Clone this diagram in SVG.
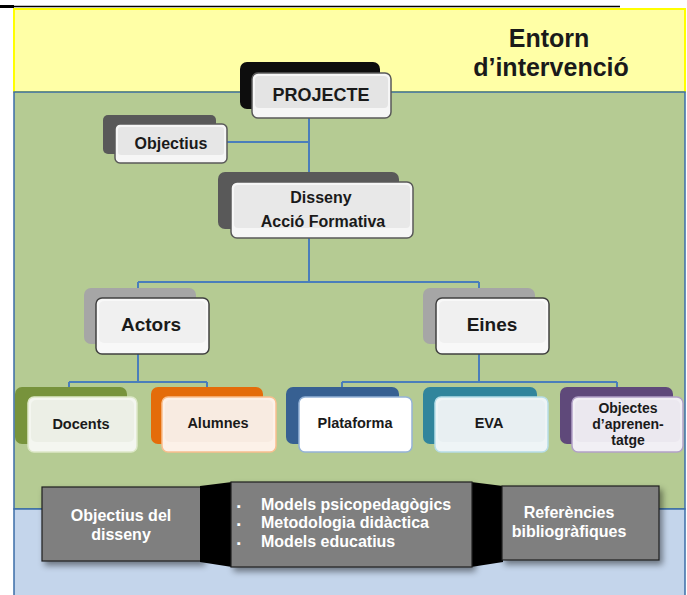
<svg xmlns="http://www.w3.org/2000/svg" width="687" height="595" viewBox="0 0 687 595">
<style>
.t{font-family:"Liberation Sans",Arial,sans-serif;font-weight:bold;text-anchor:middle;fill:#1a1a1a}
.s{text-anchor:start}
.w{fill:#ffffff}
.conn{stroke:#4a7ebb;stroke-width:2;fill:none}
.fr{stroke-width:1.5}
.gb{fill:#7f7f7f;stroke:#1f1f1f;stroke-width:1.2}
</style>
<defs>
<filter id="sh" x="-20%" y="-20%" width="140%" height="150%">
<feDropShadow dx="3" dy="4" stdDeviation="3" flood-color="#000" flood-opacity="0.45"/>
</filter>
</defs>
<rect width="687" height="595" fill="#ffffff"/>
<g id="frame">
<rect x="0" y="5" width="14" height="3" fill="#000"/>
<line x1="13" y1="6.5" x2="620" y2="6.5" stroke="#000" stroke-width="1.5"/>
<rect x="14" y="9" width="671" height="83" fill="#ffffa6" stroke="#ffff00" stroke-width="2"/>
<rect x="14" y="92" width="671" height="417" fill="#b5cb93" stroke="#3b6ea8" stroke-width="1.5"/>
<rect x="14" y="509" width="671" height="90" fill="#c4d5eb" stroke="#3b6ea8" stroke-width="1.5"/>
<text class="t" x="549" y="47" font-size="25">Entorn</text>
<text class="t" x="551" y="76" font-size="25">d’intervenció</text>
</g>
<g id="connectors">
<path class="conn" d="M309,118 V182 M227,142 H309 M309,238 V282 M138,282 H479 M138,282 V290 M479,282 V290"/>
<path class="conn" d="M138,354 V382 M69,382 H207 M69,382 V389 M207,382 V389"/>
<path class="conn" d="M479,354 V382 M342,382 H617 M342,382 V389 M617,382 V389"/>
</g>
<g id="projecte">
<rect x="240" y="62" width="140" height="47" rx="7" fill="#0d0d0d"/>
<rect class="fr" x="252" y="73" width="139" height="45" rx="6" fill="#f6f6f6" stroke="#595959"/>
<rect x="255" y="76" width="133" height="32" rx="4" fill="#e4e4e4"/>
<text class="t" x="321" y="101" font-size="18">PROJECTE</text>
</g>
<g id="objectius">
<rect x="103" y="115" width="113" height="39" rx="5" fill="#595959"/>
<rect class="fr" x="115" y="124" width="112" height="39" rx="5" fill="#f6f6f6" stroke="#595959"/>
<rect x="118" y="127" width="106" height="28" rx="3" fill="#e6e6e6"/>
<text class="t" x="171" y="149" font-size="16">Objectius</text>
</g>
<g id="disseny">
<rect x="218" y="172" width="181" height="57" rx="7" fill="#595959"/>
<rect class="fr" x="231" y="182" width="182" height="56" rx="6" fill="#f6f6f6" stroke="#595959"/>
<rect x="234" y="185" width="176" height="43" rx="4" fill="#e8e8e8"/>
<text class="t" x="321" y="203" font-size="16">Disseny</text>
<text class="t" x="323" y="227" font-size="16">Acció Formativa</text>
</g>
<g id="actors">
<rect x="84" y="288" width="112" height="56" rx="7" fill="#a6a6a6"/>
<rect class="fr" x="96" y="298" width="113" height="56" rx="6" fill="#f8f8f8" stroke="#404040"/>
<rect x="99" y="301" width="107" height="42" rx="5" fill="#f0f0f0"/>
<text class="t" x="151" y="331" font-size="19">Actors</text>
</g>
<g id="eines">
<rect x="423" y="288" width="112" height="56" rx="7" fill="#a6a6a6"/>
<rect class="fr" x="436" y="298" width="113" height="56" rx="6" fill="#f8f8f8" stroke="#404040"/>
<rect x="439" y="301" width="107" height="42" rx="5" fill="#f0f0f0"/>
<text class="t" x="492" y="331" font-size="19">Eines</text>
</g>
<g id="docents">
<rect x="15" y="387" width="112" height="57" rx="7" fill="#77933c"/>
<rect class="fr" x="28" y="397" width="109" height="55" rx="6" fill="#f4f6f0" stroke="#dde8c8"/>
<rect x="31" y="400" width="103" height="42" rx="5" fill="#ecefe6"/>
<text class="t" x="81" y="429" font-size="14.5">Docents</text>
</g>
<g id="alumnes">
<rect x="151" y="387" width="112" height="57" rx="7" fill="#e46c0a"/>
<rect class="fr" x="162" y="397" width="114" height="55" rx="6" fill="#fcf1e8" stroke="#f9bf8f"/>
<rect x="165" y="400" width="108" height="42" rx="5" fill="#f8ebe1"/>
<text class="t" x="218" y="428" font-size="14.5">Alumnes</text>
</g>
<g id="plataforma">
<rect x="286" y="387" width="113" height="57" rx="7" fill="#376092"/>
<rect class="fr" x="299" y="397" width="113" height="55" rx="6" fill="#ffffff" stroke="#95b3d7"/>
<text class="t" x="355" y="428" font-size="14.5">Plataforma</text>
</g>
<g id="eva">
<rect x="423" y="387" width="114" height="57" rx="7" fill="#31859c"/>
<rect class="fr" x="435" y="397" width="113" height="55" rx="6" fill="#eef4f6" stroke="#b7dde8"/>
<rect x="438" y="400" width="107" height="42" rx="5" fill="#e8eff2"/>
<text class="t" x="489" y="428" font-size="14.5">EVA</text>
</g>
<g id="objectes">
<rect x="560" y="387" width="113" height="57" rx="7" fill="#5f497a"/>
<rect class="fr" x="572" y="397" width="111" height="55" rx="6" fill="#f1eff4" stroke="#b2a1c7"/>
<rect x="575" y="400" width="105" height="42" rx="5" fill="#ebe8ef"/>
<text class="t" x="628" y="413" font-size="14">Objectes</text>
<text class="t" x="628" y="429" font-size="14">d’aprenen-</text>
<text class="t" x="628" y="445" font-size="14">tatge</text>
</g>
<g id="objectius-disseny">
<rect class="gb" x="42" y="487" width="160" height="74" filter="url(#sh)"/>
<text class="t w" x="121" y="521" font-size="16">Objectius del</text>
<text class="t w" x="121" y="540" font-size="16">disseny</text>
</g>
<g id="models">
<polygon points="200,486 232,482 232,567 200,562" fill="#000"/>
<polygon points="471,482 503,486 503,562 471,567" fill="#000"/>
<rect class="gb" x="231" y="482" width="241" height="85" filter="url(#sh)"/>
<text class="w" x="237" y="510" font-family="Liberation Sans, Arial, sans-serif" font-size="11">▪</text>
<text class="w" x="237" y="528" font-family="Liberation Sans, Arial, sans-serif" font-size="11">▪</text>
<text class="w" x="237" y="547" font-family="Liberation Sans, Arial, sans-serif" font-size="11">▪</text>
<text class="t w s" x="261" y="510" font-size="16">Models psicopedagògics</text>
<text class="t w s" x="261" y="528" font-size="16">Metodologia didàctica</text>
<text class="t w s" x="261" y="547" font-size="16">Models educatius</text>
</g>
<g id="referencies">
<rect class="gb" x="502" y="486" width="157" height="74" filter="url(#sh)"/>
<text class="t w" x="569" y="518" font-size="16">Referències</text>
<text class="t w" x="569" y="537" font-size="16">bibliogràfiques</text>
</g>
</svg>
